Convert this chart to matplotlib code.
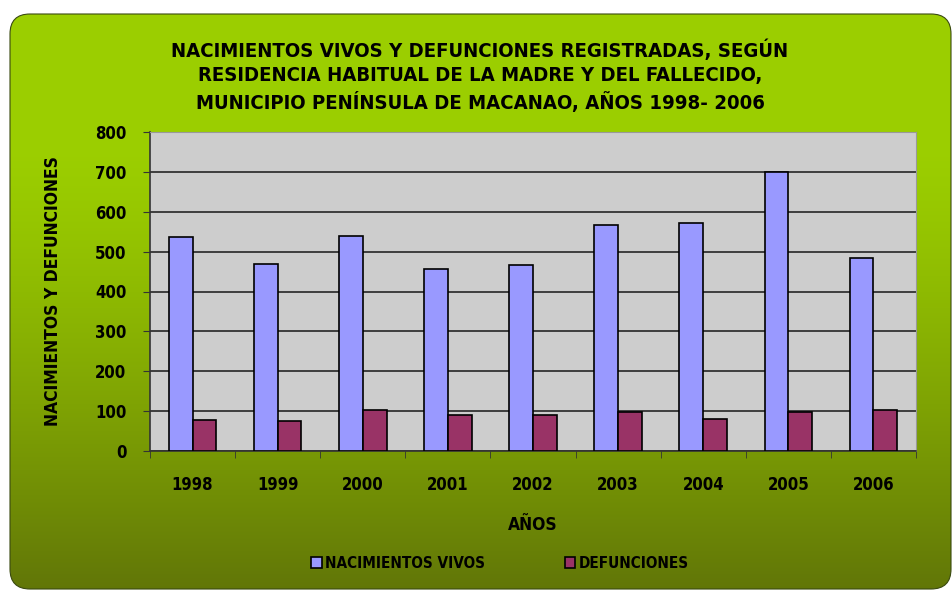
import numpy as np
import matplotlib.pyplot as plt
from matplotlib.patches import FancyBboxPatch

plt.rcParams['font.family'] = ['DejaVu Sans']
plt.rcParams['font.stretch'] = 'condensed'
plt.rcParams['font.weight'] = 'bold'
plt.rcParams['axes.labelweight'] = 'bold'

# datos
anios = ['1998', '1999', '2000', '2001', '2002', '2003', '2004', '2005', '2006']
nacimientos = [536, 469, 539, 456, 466, 566, 571, 700, 484]
defunciones = [78, 75, 103, 91, 91, 99, 80, 99, 103]

W, H = 952, 592
fig = plt.figure(figsize=(W / 100, H / 100), dpi=100)
fig.patch.set_facecolor('white')

# fondo verde degradado con esquinas redondeadas
bg = fig.add_axes([0, 0, 1, 1])
bg.set_xlim(0, W)
bg.set_ylim(H, 0)
bg.axis('off')
yy, xx = np.mgrid[0:H, 0:W]
v = np.clip((yy / H - 0.25) / 0.75, 0, 1)
oscuro = (v ** 1.3)[..., None]
claro = np.array([0.61, 0.81, 0.0])
sombra = np.array([0.38, 0.46, 0.03])
img = claro * (1 - oscuro) + sombra * oscuro
im = bg.imshow(img, extent=(0, W, H, 0), zorder=0)
marco = FancyBboxPatch((10, 14), W - 11, H - 17,
                       boxstyle='round,pad=0,rounding_size=20',
                       transform=bg.transData, facecolor='none',
                       edgecolor='#3a4a10', linewidth=0.8, zorder=1)
bg.add_patch(marco)
im.set_clip_path(marco)

ax = fig.add_axes([150 / W, 1 - 451 / H, (916 - 150) / W, (451 - 132) / H])
ax.set_facecolor('#cdcdcd')

x = np.arange(len(anios))
w = 0.28
ax.bar(x - w / 2, nacimientos, w, color='#9999ff', edgecolor='black',
       linewidth=1.2, label='NACIMIENTOS VIVOS', zorder=3)
ax.bar(x + w / 2, defunciones, w, color='#993366', edgecolor='black',
       linewidth=1.2, label='DEFUNCIONES', zorder=3)

ax.set_ylim(0, 800)
ax.set_xlim(-0.5, len(anios) - 0.5)
ax.set_yticks(range(0, 801, 100))
ax.yaxis.grid(True, color='#333333', linewidth=1.3, zorder=1)
ax.set_xticks(x)
ax.set_xticklabels(anios)
ax.set_xticks(np.arange(-0.5, len(anios)), minor=True)
ax.tick_params(axis='x', which='major', length=0, pad=18, labelsize=12)
ax.tick_params(axis='x', which='minor', length=5, color='#333333')
ax.tick_params(axis='y', length=5, color='#333333', pad=12, labelsize=12)
for s in ['top', 'right']:
    ax.spines[s].set_color('#999999')
for s in ['left', 'bottom']:
    ax.spines[s].set_color('#333333')
    ax.spines[s].set_linewidth(1.2)

ax.set_xlabel('AÑOS', fontsize=12.5, labelpad=16)
ax.set_ylabel('NACIMIENTOS Y DEFUNCIONES', fontsize=12.5, labelpad=24)

fig.text(480 / W, 1 - 76 / H,
         'NACIMIENTOS VIVOS Y DEFUNCIONES REGISTRADAS, SEGÚN\n'
         'RESIDENCIA HABITUAL DE LA MADRE Y DEL FALLECIDO,\n'
         'MUNICIPIO PENÍNSULA DE MACANAO, AÑOS 1998- 2006',
         ha='center', va='center', fontsize=14.6, linespacing=1.38)

fig.legend(loc='center', bbox_to_anchor=(500 / W, 1 - 563 / H), ncol=2,
           frameon=False, fontsize=11, handlelength=0.7, handleheight=0.7,
           handletextpad=0.2, columnspacing=5.2)

fig.savefig('out.png', dpi=100)
